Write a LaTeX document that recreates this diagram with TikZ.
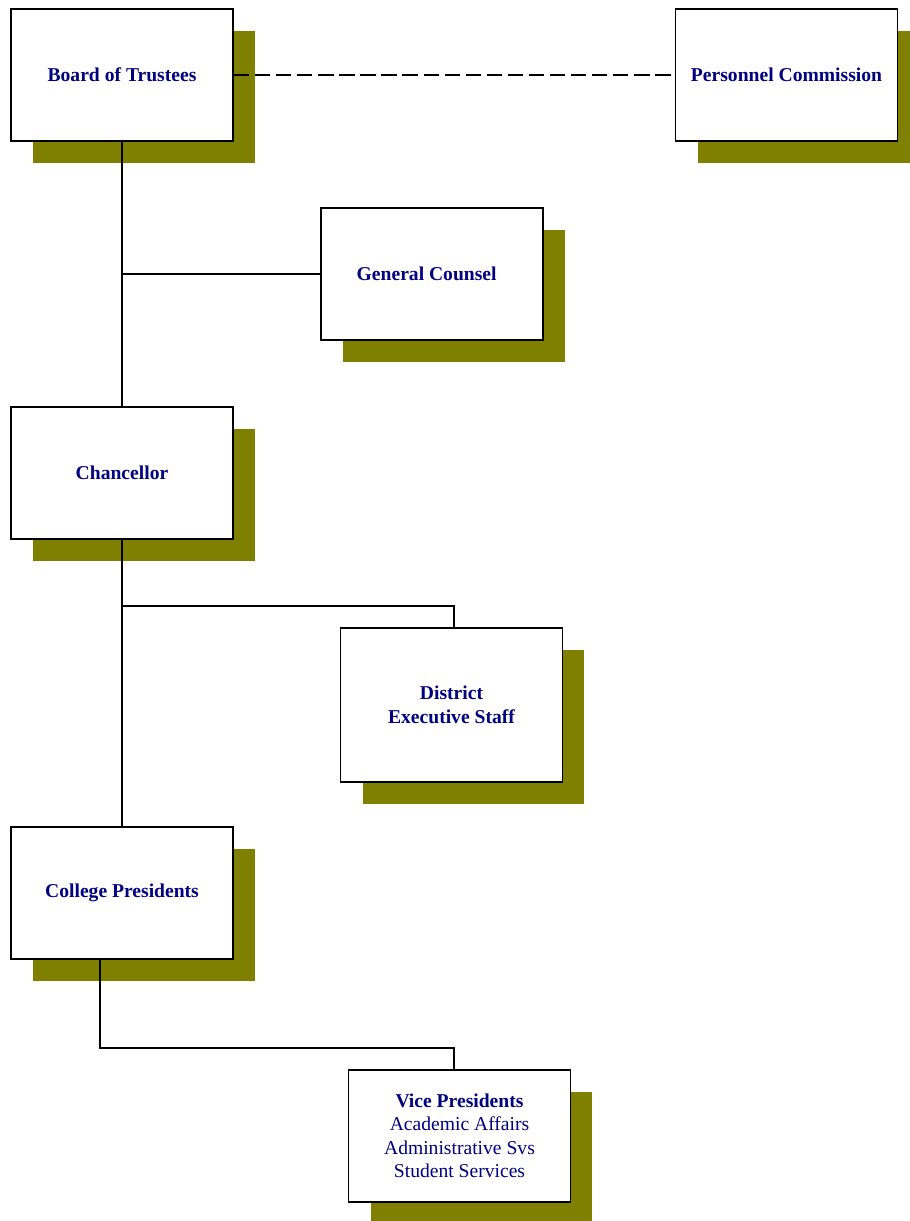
\documentclass[tikz,border=0pt]{standalone}
\usepackage{fontspec}
\setmainfont{Liberation Serif}
\usetikzlibrary{calc}
\definecolor{navytext}{HTML}{000080}
\definecolor{shadowolive}{HTML}{808000}
\begin{document}
\begin{tikzpicture}[x=0.75pt,y=-0.75pt,
  orgbox/.style={draw=black,line width=1.4pt,fill=white,rectangle,inner sep=0pt,
    minimum width=166.5pt,minimum height=99pt,align=center,text=navytext,
    font=\fontsize{14.7}{17.6}\selectfont\bfseries},
  tallbox/.style={orgbox,minimum height=115.5pt},
  link/.style={draw=black,line width=1.1pt},
  dashlink/.style={draw=black,line width=2pt,dash pattern=on 11.5pt off 4.3pt}]
\useasboundingbox (0,0) rectangle (910,1221);
\clip (0,0) rectangle (910,1221);
% shadows
\fill[shadowolive] (33,31) rectangle (255,163);
\fill[shadowolive] (698,31) rectangle (920,163);
\fill[shadowolive] (343,230) rectangle (565,362);
\fill[shadowolive] (33,429) rectangle (255,561);
\fill[shadowolive] (363,650) rectangle (584,804);
\fill[shadowolive] (33,849) rectangle (255,981);
\fill[shadowolive] (371,1092) rectangle (592,1224);
% junction points
\coordinate (j1) at (122,274);
\coordinate (j2) at (122,606);
\coordinate (j2r) at (454,606);
\coordinate (j3a) at (100,1048);
\coordinate (j3b) at (454,1048);
% boxes
\node[orgbox] (bot) at (122,75) {Board of Trustees};
\node[orgbox] (pc) at (786.5,75) {Personnel Commission};
\node[orgbox] (gc) at (432,274) {\hspace*{-8pt}General Counsel};
\node[orgbox] (ch) at (122,473) {Chancellor};
\node[tallbox] (des) at (451.5,705) {District\\Executive Staff};
\node[orgbox] (cp) at (122,893) {College Presidents};
\node[orgbox] (vp) at (459.5,1136) {Vice Presidents\\\mdseries Academic Affairs\\\mdseries Administrative Svs\\\mdseries Student Services};
% lines
\draw[link] (bot.south) -- (ch.north);
\draw[link] (j1) -- (gc.west);
\draw[dashlink] (bot.east) -- (pc.west);
\draw[link] (ch.south) -- (cp.north);
\draw[link] (j2) -- (j2r) -- (j2r |- des.north);
\draw[link] (cp.south -| j3a) -- (j3a) -- (j3b) -- (j3b |- vp.north);
\end{tikzpicture}
\end{document}
